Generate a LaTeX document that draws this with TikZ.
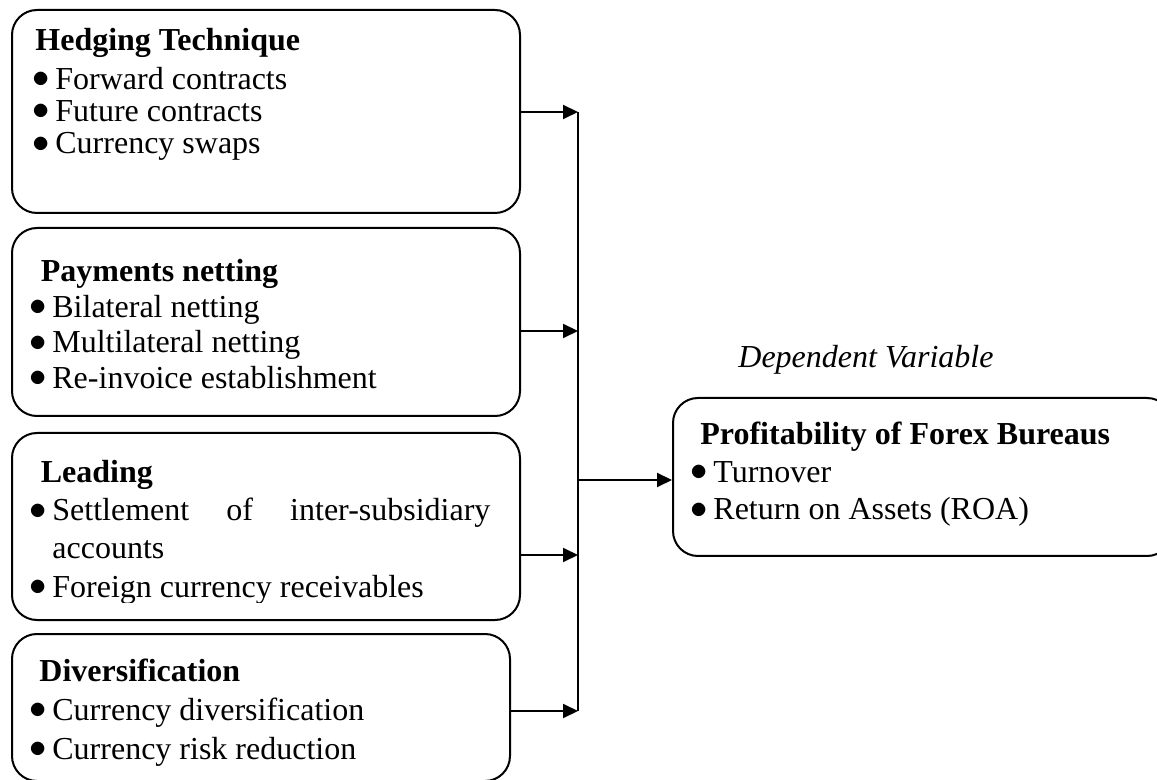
\documentclass[tikz,border=0pt]{standalone}
\usepackage{fontspec}
\setmainfont{Liberation Serif}
\usetikzlibrary{arrows.meta,fit}

\tikzset{
  box/.style={draw, line width=1pt, rounded corners=12.5pt, inner sep=0pt},
  txt/.style={anchor=base west, inner sep=0pt, font=\fontsize{16}{18}\selectfont},
  head/.style={txt, font=\fontsize{16}{18}\selectfont\bfseries},
  arr/.style={line width=1pt, -{Triangle[length=7.5pt,width=7pt]}}
}
\newcommand{\bul}{\makebox[11.5pt][l]{\raisebox{0.8pt}{$\bullet$}}}

\begin{document}
\begin{tikzpicture}[x=0.5pt, y=-0.5pt]
\useasboundingbox (0,0) rectangle (1157,780);

% independent variables
\node[box, fit={(12,10) (520,213)}] (b1) {};
\node[head] (h1) at (35,51) {Hedging Technique};
\foreach \t [count=\i] in {Forward contracts, Future contracts, Currency swaps}
  \node[txt] (i1-\i) at (32,57+32.3*\i) {\bul\t};

\node[box, fit={(12,228) (520,416)}] (b2) {};
\node[head] (h2) at (40.5,282) {Payments netting};
\foreach \t [count=\i] in {Bilateral netting, Multilateral netting, Re-invoice establishment}
  \node[txt] (i2-\i) at (29,282+35.5*\i) {\bul\t};

\node[box, fit={(12,433) (520,620)}] (b3) {};
\node[head] (h3) at (40.5,482.5) {Leading};
\node[txt] (i3-1) at (29,521) {\bul\hbox to 219pt{Settlement\hfill of\hfill inter-subsidiary}};
\node[txt] (i3-2) at (52,558.5) {accounts};
\begin{scope}
  \clip (0,0) rectangle (1157,602);
  \node[txt] (i3-3) at (29,597) {\bul Foreign currency receivables};
\end{scope}

\node[box, fit={(12,634) (510,781)}] (b4) {};
\node[head] (h4) at (39,681) {Diversification};
\foreach \t [count=\i] in {Currency diversification, Currency risk reduction}
  \node[txt] (i4-\i) at (29,681+39*\i) {\bul\t};

% dependent variable
\node[txt, font=\fontsize{16}{18}\selectfont\itshape] (lbl) at (738,368) {Dependent Variable};
\node[box, fit={(673,398) (1172,556)}] (dv) {};
\node[head] (h5) at (700,445) {Profitability of Forex Bureaus};
\foreach \t [count=\i] in {Turnover, Return on Assets (ROA)}
  \node[txt] (i5-\i) at (690,445+37.5*\i) {\bul\t};

% connectors
\coordinate (j1) at (578,112);
\coordinate (j2) at (578,331);
\coordinate (j3) at (578,555);
\coordinate (j4) at (578,711);
\coordinate (j5) at (578,480);
\draw[line width=1pt] (j1) -- (j4);
\draw[arr] (j1 -| b1.east) -- (j1);
\draw[arr] (j2 -| b2.east) -- (j2);
\draw[arr] (j3 -| b3.east) -- (j3);
\draw[arr] (j4 -| b4.east) -- (j4);
\draw[arr] (j5) -- (j5 -| dv.west);
\end{tikzpicture}
\end{document}
